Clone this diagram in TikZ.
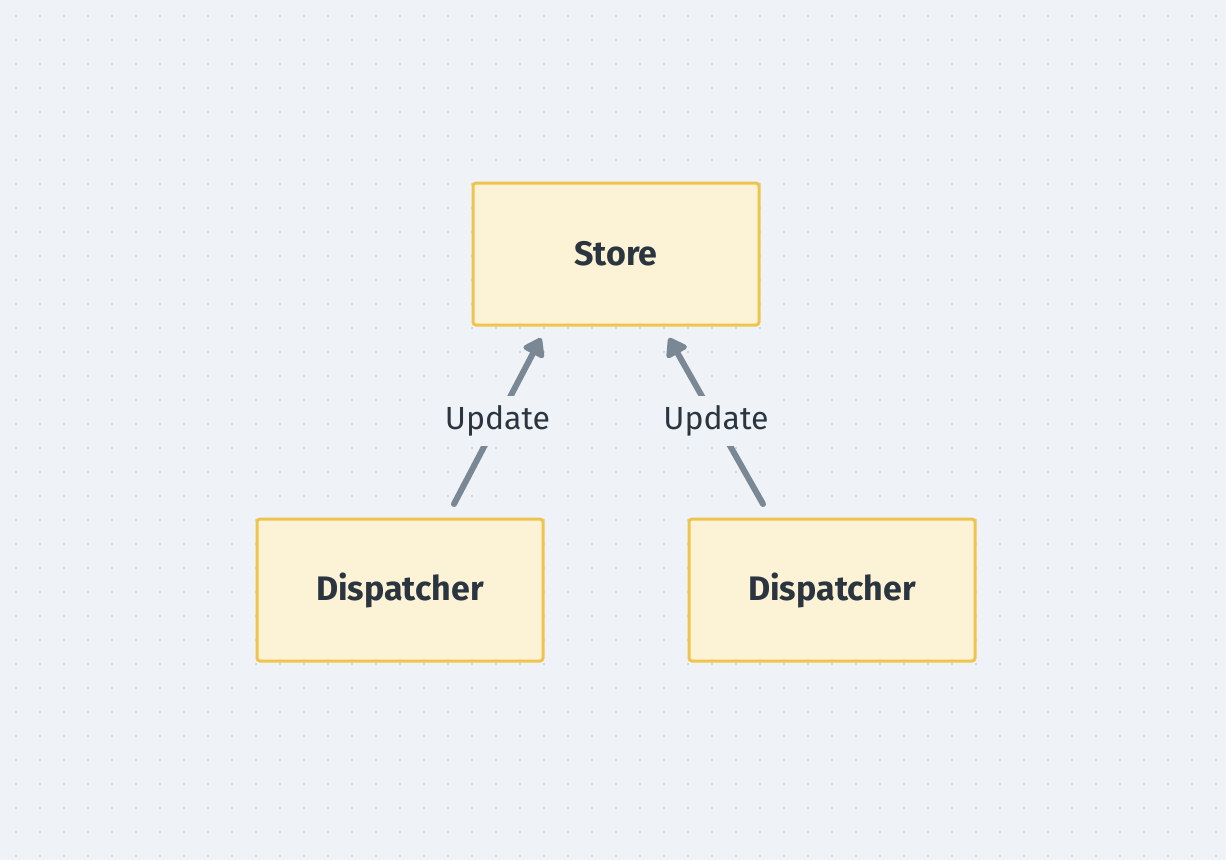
\documentclass[tikz,border=0pt]{standalone}
\usepackage{fontspec}
\setmainfont{Fira Sans}
\usetikzlibrary{arrows.meta}
\definecolor{bgcol}{HTML}{EFF3F7}
\definecolor{dotcol}{HTML}{C5CCD5}
\definecolor{boxfill}{HTML}{FCF3D6}
\definecolor{boxline}{HTML}{F0C44C}
\definecolor{arrcol}{HTML}{7A8794}
\definecolor{txtcol}{HTML}{2A3540}
\tikzstyle{block}=[draw=boxline,fill=boxfill,line width=3pt,rounded corners=3pt,minimum width=286pt,minimum height=142pt,text=txtcol,font=\fontsize{34}{40}\selectfont\bfseries]
\tikzstyle{upd}=[line width=6pt,draw=arrcol,line cap=round,-{Triangle[length=20pt,width=26pt,round]}]
\tikzstyle{updlabel}=[fill=bgcol,text=txtcol,inner sep=10pt,font=\fontsize{32}{38}\selectfont]
\begin{document}
\begin{tikzpicture}[x=1pt,y=-1pt]
	\fill[bgcol] (0,0) rectangle (1226,860);
	\useasboundingbox (0,0) rectangle (1226,860);
	\foreach \i in {0,...,50} {
		\foreach \j in {0,...,35} {
			\fill[dotcol] (16+24*\i,16+24*\j) circle (1.2pt);
		}
	}
	\node[block] (store) at (616,254) {Store};
	\node[block] (dispL) at (400,590) {Dispatcher};
	\node[block] (dispR) at (832,590) {Dispatcher};
	\coordinate (tipL) at (541,338);
	\coordinate (tipR) at (669,338);
	\coordinate (startL) at (454,504);
	\coordinate (startR) at (763,504);
	\draw[upd] (startL) -- node[updlabel]{Update} (tipL);
	\draw[upd] (startR) -- node[updlabel]{Update} (tipR);
\end{tikzpicture}
\end{document}
